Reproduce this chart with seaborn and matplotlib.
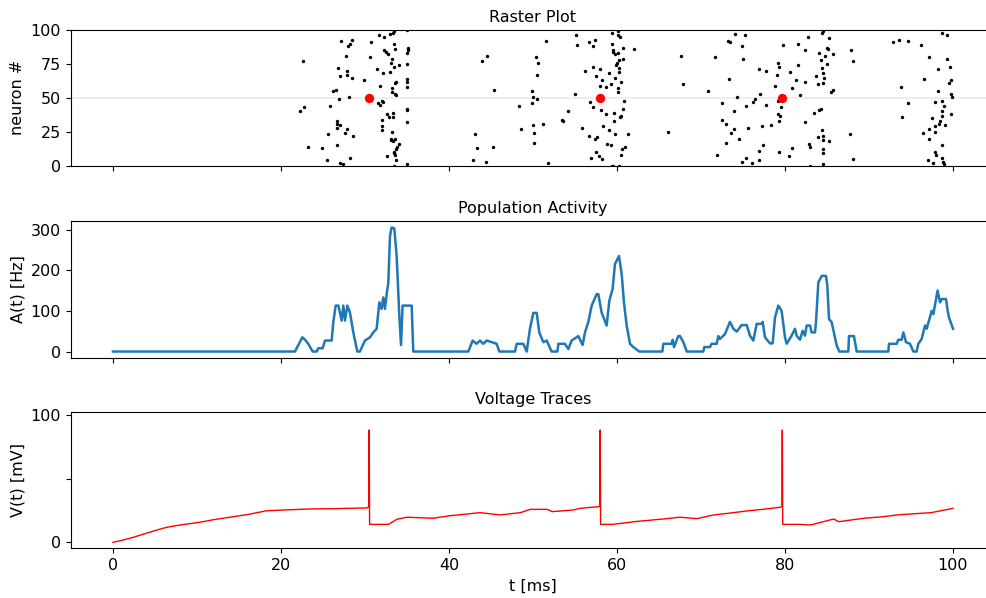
import matplotlib
matplotlib.use("Agg")
import matplotlib.pyplot as plt
import seaborn as sns

plt.rcParams["font.size"] = 11.5

# ---- spike raster: spike time [ms] and neuron index ----
spike_times = [
    22.58, 22.26, 22.78, 23.17, 24.92, 25.44, 25.63, 25.83, 26.23, 26.55,
    26.63, 26.63, 26.63, 26.63, 26.79, 26.94, 27.02, 27.02, 27.10, 27.02,
    27.42, 27.62, 27.74, 27.82, 27.82, 27.90, 28.02, 28.06, 28.21, 28.21,
    28.49, 28.49, 28.53, 29.92, 30.59, 30.75, 31.39, 31.59, 31.63, 31.79,
    31.79, 31.98, 32.18, 32.02, 31.98, 32.02, 32.10, 32.26, 32.26, 32.50,
    32.58, 32.58, 32.70, 32.86, 32.98, 32.98, 33.06, 33.17, 33.17, 33.25,
    33.21, 33.06, 33.06, 33.37, 33.45, 33.37, 33.37, 33.45, 33.45, 33.57,
    33.65, 33.57, 33.65, 33.61, 33.61, 33.45, 33.45, 33.57, 33.69, 33.77,
    33.29, 33.45, 33.69, 34.09, 34.09, 34.96, 34.96, 34.96, 34.96, 34.96,
    35.00, 34.96, 34.96, 35.04, 35.12, 35.16, 34.96,
    42.82, 43.10, 43.37, 43.97, 44.41, 44.48, 45.20, 45.40, 48.37, 48.57,
    49.92, 49.92, 50.04, 50.04, 50.12, 50.12, 50.36, 50.52, 50.56, 50.44,
    51.15, 51.51, 51.75, 53.45, 53.53, 54.13, 55.00, 55.12, 55.20, 55.83,
    56.19, 56.71, 56.71, 56.79, 56.90, 57.10, 57.18, 57.18, 57.34, 57.38,
    57.46, 57.54, 57.66, 57.90, 57.98, 58.02, 58.10, 58.17, 58.25, 58.29,
    58.65, 58.69, 58.77, 59.01, 59.09, 59.25, 59.33, 59.37, 59.45, 59.48,
    59.56, 59.64, 59.68, 59.76, 59.80, 59.80, 59.84, 60.04, 60.08, 60.08,
    60.16, 60.16, 60.16, 60.20, 60.24, 60.28, 60.32, 60.36, 60.44, 60.48,
    60.52, 60.64, 60.68, 60.71, 60.75, 60.83, 60.95, 61.35, 62.06, 60.28,
    59.56, 59.37,
    66.10, 67.60, 67.80,
    74.05, 75.24, 73.25, 73.45, 74.84, 71.67, 75.04, 79.72, 81.59, 82.78,
    84.48, 84.40, 85.28, 82.38, 84.05, 84.96, 85.12, 85.67, 84.76, 84.32,
    85.00, 79.13, 79.28, 76.94, 77.74, 79.09, 81.51, 80.59, 84.44, 84.48,
    83.65, 84.64, 73.33, 81.27, 82.42, 83.93, 84.48, 78.77, 80.83, 70.87,
    74.25, 76.43, 76.23, 77.06, 81.82, 85.44, 85.75, 79.21, 72.46, 75.36,
    77.74, 79.52, 73.97, 83.41, 84.05, 84.28, 79.21, 79.40, 72.46, 72.98,
    79.28, 82.42, 75.59, 77.22, 78.29, 73.97, 73.53, 74.52, 72.98, 83.97,
    84.44, 84.56, 84.56, 85.28, 87.74, 77.34, 76.86, 80.83, 82.90, 82.98,
    71.94, 79.28, 80.44, 84.48, 84.48, 75.36, 74.92, 76.94, 76.11, 84.48,
    82.98, 87.82, 88.06, 88.13,
    92.82, 93.61, 94.60, 96.19, 98.65, 99.33, 97.18, 99.25, 99.64, 98.21,
    96.59, 99.72, 99.52, 93.81, 98.21, 99.80, 99.84, 94.60, 97.86, 98.73,
    98.93, 98.73, 98.73, 99.80, 93.93, 97.54, 98.45, 98.37, 99.09, 97.86,
    97.11, 97.86, 96.47, 97.18, 98.65, 97.82, 98.02, 98.73, 97.03, 97.62,
    98.77, 98.97,
]
spike_ids = [
    77, 40, 43, 14, 13, 4, 23, 44, 55, 56,
    33, 31, 28, 15, 72, 49, 66, 2, 92, 30,
    1, 24, 81, 70, 27, 67, 88, 51, 90, 6,
    93, 65, 22, 63, 80, 91, 71, 46, 96, 45,
    59, 48, 47, 34, 29, 26, 68, 95, 85, 84,
    38, 7, 82, 36, 97, 69, 76, 57, 54, 79,
    25, 20, 19, 98, 90, 36, 39, 99, 73, 61,
    62, 53, 52, 86, 20, 10, 9, 8, 12, 14,
    18, 0, 4, 74, 16, 100, 75, 64, 62, 58,
    41, 42, 32, 83, 85, 87, 1,
    4, 23, 13, 77, 3, 81, 14, 56, 44, 27,
    55, 46, 51, 30, 24, 17, 80, 49, 76, 67,
    31, 92, 2, 34, 33, 40, 53, 96, 89, 28,
    70, 91, 22, 47, 6, 43, 88, 73, 93, 20,
    66, 10, 21, 7, 71, 59, 41, 5, 63, 29,
    58, 38, 16, 68, 26, 15, 60, 90, 98, 84,
    85, 33, 39, 65, 82, 23, 74, 76, 57, 54,
    99, 96, 83, 78, 72, 69, 36, 95, 62, 8,
    37, 12, 42, 79, 87, 48, 14, 23, 86, 0,
    0, 0,
    25, 81, 60,
    97, 96, 92, 91, 88, 80, 79, 89, 90, 95,
    99, 98, 94, 85, 83, 87, 86, 82, 81, 78,
    75, 76, 73, 71, 70, 67, 74, 69, 72, 68,
    66, 65, 64, 63, 62, 60, 61, 59, 57, 55,
    51, 49, 47, 53, 52, 54, 56, 48, 46, 44,
    45, 43, 40, 39, 41, 42, 38, 37, 34, 31,
    33, 32, 28, 29, 30, 27, 24, 20, 17, 21,
    26, 22, 19, 18, 23, 15, 11, 13, 16, 14,
    8, 10, 7, 12, 9, 6, 3, 4, 2, 1,
    0, 85, 77, 5,
    91, 93, 92, 89, 98, 96, 80, 79, 73, 71,
    64, 63, 61, 58, 55, 53, 51, 46, 47, 48,
    44, 40, 37, 38, 36, 35, 33, 31, 30, 29,
    27, 25, 24, 20, 15, 10, 8, 6, 4, 2,
    3, 1,
]

# spikes of the recorded neuron (#50)
probe_id = 50
probe_spikes = [30.47, 57.95, 79.68]

# ---- population activity A(t) [Hz] ----
rate_t = [
    0.0, 21.67, 22.54, 22.86, 23.25, 23.77, 24.25, 24.44, 24.96, 25.24,
    26.03, 26.23, 26.51, 26.83, 27.22, 27.42, 27.62, 27.90, 28.21, 28.61,
    29.09, 29.40, 30.00, 30.60, 30.99, 31.39, 31.71, 31.98, 32.18, 32.38,
    32.58, 32.78, 32.98, 33.17, 33.49, 33.77, 34.09, 34.29, 34.48, 35.56,
    35.75, 42.30, 42.82, 43.29, 43.69, 44.09, 44.49, 45.08, 45.68, 45.99,
    47.86, 48.06, 48.85, 49.25, 49.64, 50.04, 50.44, 50.75, 51.23, 51.63,
    52.22, 52.90, 53.02, 53.81, 54.21, 54.60, 55.40, 55.91, 56.19, 56.59,
    56.99, 57.58, 57.78, 58.17, 58.77, 59.09, 59.48, 59.76, 60.24, 60.56,
    60.83, 61.15, 61.55, 61.94, 62.66, 65.40, 65.52, 66.51, 66.63, 66.79,
    67.30, 67.50, 67.90, 68.30, 70.28, 70.40, 71.07, 71.27, 71.87, 72.06,
    72.26, 72.86, 73.45, 73.85, 74.25, 74.84, 75.44, 75.83, 76.23, 76.63,
    77.22, 77.34, 77.62, 78.22, 78.53, 78.81, 79.21, 79.60, 80.00, 80.20,
    80.79, 81.19, 81.39, 81.79, 82.10, 82.38, 82.58, 82.98, 83.17, 83.57,
    83.69, 83.97, 84.37, 84.88, 85.04, 85.24, 85.56, 86.15, 86.47, 87.54,
    87.62, 88.21, 88.53, 92.30, 92.38, 93.29, 93.49, 93.89, 94.09, 94.41,
    94.88, 95.28, 95.67, 95.87, 96.27, 96.67, 96.87, 97.46, 97.66, 98.17,
    98.45, 98.65, 99.17, 99.33, 99.52, 100.0,
]
rate_hz = [
    0, 0, 35, 29, 19, 0, 0, 8, 8, 27,
    27, 72, 113, 113, 76, 113, 76, 113, 96, 47,
    0, 0, 27, 35, 47, 56, 121, 105, 133, 105,
    141, 170, 284, 305, 303, 235, 88, 16, 113, 113,
    0, 0, 27, 19, 27, 19, 27, 23, 19, 0,
    0, 19, 19, 0, 56, 95, 95, 47, 23, 27,
    0, 0, 19, 19, 6, 27, 38, 16, 47, 73,
    113, 141, 141, 96, 64, 125, 154, 215, 235, 190,
    121, 64, 19, 11, 0, 0, 19, 19, 29, 11,
    38, 38, 23, 0, 0, 11, 11, 19, 19, 38,
    31, 43, 73, 56, 49, 65, 65, 39, 27, 68,
    68, 73, 35, 20, 20, 84, 113, 100, 35, 19,
    39, 56, 39, 29, 51, 39, 64, 64, 47, 47,
    72, 170, 186, 186, 162, 80, 72, 15, 0, 0,
    38, 38, 0, 0, 19, 19, 29, 29, 47, 23,
    19, 0, 0, 19, 31, 64, 56, 100, 92, 150,
    121, 129, 129, 105, 84, 56,
]

# ---- membrane potential of neuron #50 ----
volt_t = [
    0.0, 1.2, 2.4, 4.0, 5.2, 6.4, 8.0, 10.3, 12.0, 14.3,
    16.0, 18.3, 20.0, 22.3, 24.0, 26.2, 28.0, 30.2, 30.45,
    30.5, 30.55, 32.8, 33.8, 35.0, 38.1, 40.1, 42.1, 43.7, 46.1,
    48.5, 49.7, 51.7, 52.3, 54.8, 55.6, 57.8, 57.95, 58.0, 58.05,
    59.5, 61.5, 62.0, 65.5, 67.5, 69.5, 71.5, 73.5, 75.4, 77.5, 79.4, 79.63,
    79.68, 79.73, 81.8, 83.0, 83.8, 85.8, 86.4, 89.4, 91.5, 93.4, 95.5, 97.4,
    99.4, 100.0,
]
volt_mv = [
    0.0, 1.8, 3.9, 7.2, 9.6, 11.8, 13.6, 15.7, 17.8, 20.1,
    21.8, 24.8, 25.3, 25.9, 26.3, 26.4, 26.7, 27.0, 27.8,
    88.2, 14.1, 14.1, 18.1, 19.7, 18.9, 20.9, 22.2, 23.3, 21.5,
    23.3, 25.9, 25.9, 24.1, 25.4, 26.7, 28.0, 28.3, 88.2, 14.1,
    14.1, 15.7, 16.2, 18.3, 19.7, 18.6, 21.5, 23.0, 24.6, 26.0, 27.5, 28.0,
    88.2, 14.1, 14.1, 13.6, 14.9, 18.3, 16.2, 18.9, 20.0, 21.5, 22.5, 23.3,
    25.9, 26.7,
]

x_ticks = [0, 20, 40, 60, 80, 100]

fig = plt.figure(figsize=(9.87, 5.98), dpi=100)
ax_r = fig.add_axes([0.0719, 0.7229, 0.9362, 0.2269])
ax_a = fig.add_axes([0.0719, 0.4018, 0.9362, 0.2281], sharex=ax_r)
ax_v = fig.add_axes([0.0719, 0.0831, 0.9362, 0.2274], sharex=ax_r)

# raster
ax_r.axhline(probe_id, color="0.92", lw=1.2, zorder=0)
sns.scatterplot(x=spike_times, y=spike_ids, ax=ax_r, color="black",
                s=6, linewidth=0, zorder=2)
sns.scatterplot(x=probe_spikes, y=[probe_id] * len(probe_spikes), ax=ax_r,
                color="red", s=45, linewidth=0, zorder=3)
ax_r.set_ylim(0, 100)
ax_r.set_yticks([0, 25, 50, 75, 100])
ax_r.set_ylabel("neuron #")
ax_r.set_title("Raster Plot", fontsize=11.5)

# population activity
sns.lineplot(x=rate_t, y=rate_hz, ax=ax_a, color="#1f77b4", lw=1.8,
             estimator=None, sort=False)
ax_a.set_yticks([0, 100, 200, 300])
ax_a.set_ylabel("A(t) [Hz]")
ax_a.set_title("Population Activity", fontsize=11.5)

# voltage trace
sns.lineplot(x=volt_t, y=volt_mv, ax=ax_v, color="red", lw=1.0,
             estimator=None, sort=False)
ax_v.set_ylim(-4.7, 102.1)
ax_v.set_yticks([0, 50, 100])
ax_v.set_yticklabels(["0", "", "100"])
ax_v.set_ylabel("V(t) [mV]")
ax_v.set_xlabel("t [ms]")
ax_v.set_title("Voltage Traces", fontsize=11.5)

ax_v.set_xlim(-5, 105)
ax_v.set_xticks(x_ticks)
for ax in (ax_r, ax_a):
    ax.tick_params(labelbottom=False)
    ax.set_xlabel("")

fig.savefig("out.png", dpi=100)
